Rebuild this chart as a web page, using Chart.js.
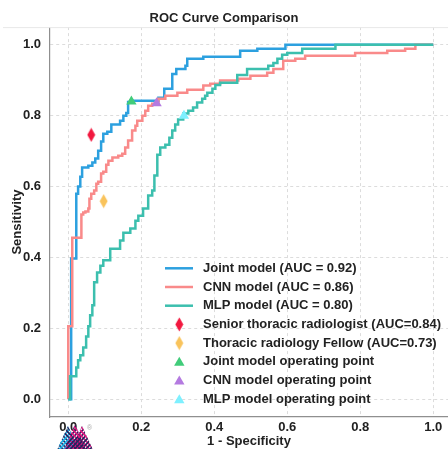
<!DOCTYPE html>
<html>
<head>
<meta charset="utf-8">
<script src="https://cdn.jsdelivr.net/npm/chart.js@4.4.1/dist/chart.umd.min.js"></script>
<style>
  html, body { margin: 0; padding: 0; background: #fff; overflow: hidden; }
  #wrap { width: 448px; height: 449px; position: relative; }
</style>
</head>
<body>
<div id="wrap"><canvas id="roc"></canvas></div>
<script>
// ROC corner points (step-before: horizontal run, then rise)
const jointFpr = [0, 0.008, 0.022, 0.027, 0.033, 0.038, 0.055, 0.066, 0.074, 0.082, 0.090, 0.096, 0.107, 0.118, 0.142, 0.151, 0.159, 0.164, 0.170, 0.247, 0.263, 0.285, 0.296, 0.321, 0.326, 0.370, 0.471, 0.518, 0.595, 1.0];
const jointTpr = [0, 0.397, 0.580, 0.600, 0.628, 0.654, 0.659, 0.668, 0.679, 0.701, 0.727, 0.749, 0.755, 0.775, 0.786, 0.800, 0.808, 0.839, 0.842, 0.851, 0.876, 0.918, 0.932, 0.941, 0.961, 0.966, 0.983, 0.989, 1.0, 1.0];

const cnnFpr = [0, 0, 0.011, 0.036, 0.041, 0.047, 0.055, 0.058, 0.063, 0.071, 0.077, 0.082, 0.090, 0.096, 0.104, 0.110, 0.121, 0.137, 0.148, 0.156, 0.164, 0.175, 0.184, 0.189, 0.203, 0.211, 0.219, 0.230, 0.247, 0.266, 0.299, 0.326, 0.370, 0.389, 0.416, 0.466, 0.499, 0.545, 0.562, 0.589, 0.622, 0.649, 0.786, 0.874, 0.923, 0.951, 0.951, 1.0];
const cnnTpr = [0, 0.206, 0.456, 0.521, 0.527, 0.530, 0.538, 0.566, 0.580, 0.589, 0.608, 0.614, 0.637, 0.642, 0.662, 0.673, 0.682, 0.687, 0.693, 0.710, 0.730, 0.758, 0.772, 0.786, 0.800, 0.814, 0.828, 0.834, 0.848, 0.856, 0.865, 0.873, 0.885, 0.890, 0.899, 0.904, 0.913, 0.921, 0.932, 0.955, 0.961, 0.969, 0.977, 0.983, 0.989, 0.994, 1.0, 1.0];

const mlpFpr = [0, 0.005, 0.022, 0.027, 0.033, 0.041, 0.049, 0.055, 0.060, 0.066, 0.071, 0.079, 0.088, 0.096, 0.115, 0.142, 0.151, 0.170, 0.184, 0.192, 0.205, 0.219, 0.230, 0.236, 0.244, 0.252, 0.266, 0.277, 0.285, 0.293, 0.301, 0.315, 0.329, 0.342, 0.353, 0.367, 0.375, 0.381, 0.395, 0.403, 0.416, 0.463, 0.490, 0.548, 0.562, 0.573, 0.586, 0.600, 0.641, 0.732, 1.0];
const mlpTpr = [0, 0.065, 0.090, 0.110, 0.124, 0.146, 0.177, 0.206, 0.237, 0.265, 0.330, 0.358, 0.377, 0.392, 0.425, 0.448, 0.470, 0.482, 0.504, 0.518, 0.538, 0.575, 0.589, 0.631, 0.690, 0.710, 0.718, 0.738, 0.758, 0.775, 0.789, 0.806, 0.814, 0.823, 0.837, 0.848, 0.856, 0.865, 0.876, 0.887, 0.893, 0.915, 0.932, 0.941, 0.949, 0.961, 0.972, 0.977, 0.989, 1.0, 1.0];

// single operating points [fpr, tpr]
const seniorPoint = [0.063, 0.746];
const fellowPoint = [0.097, 0.559];
const jointOpPoint = [0.173, 0.840];
const cnnOpPoint = [0.242, 0.835];
const mlpOpPoint = [0.317, 0.800];

const seriesLabels = [
    'Joint model (AUC = 0.92)',
    'CNN model (AUC = 0.86)',
    'MLP model (AUC = 0.80)',
    'Senior thoracic radiologist (AUC=0.84)',
    'Thoracic radiology Fellow (AUC=0.73)',
    'Joint model operating point',
    'CNN model operating point',
    'MLP model operating point'
];
const xTicks = [0, 0.2, 0.4, 0.6, 0.8, 1.0];
const yTicks = [0, 0.2, 0.4, 0.6, 0.8, 1.0];

const FONT = "'Liberation Sans', Arial, Helvetica, sans-serif";
const toXY = (xs, ys) => xs.map((x, i) => ({ x: x, y: ys[i] }));

// thin matplotlib-like diamond as a point image
function diamond(color){
    const c = document.createElement('canvas');
    c.width = 9; c.height = 15;
    const g = c.getContext('2d');
    g.fillStyle = color;
    g.beginPath();
    g.moveTo(4.5, 0.5); g.lineTo(8.5, 7.5); g.lineTo(4.5, 14.5); g.lineTo(0.5, 7.5);
    g.closePath();
    g.fill();
    return c;
}

const lineDs = (label, xs, ys, color, order) => ({
    label: label, data: toXY(xs, ys), borderColor: color, backgroundColor: color,
    borderWidth: 2.5, pointRadius: 0, stepped: 'before', fill: false, order: order
});
const pointDs = (label, pt, color, style) => ({
    label: label, data: [{ x: pt[0], y: pt[1] }], showLine: false,
    borderColor: color, backgroundColor: color, pointStyle: style,
    pointRadius: 6, pointBorderWidth: 0, order: 0
});

// striped peak for the corner logo
function peak(ctx, px, py, c1, c2){
    ctx.save();
    ctx.beginPath();
    ctx.moveTo(px, py); ctx.lineTo(px + 11, 450); ctx.lineTo(px - 11, 450); ctx.closePath();
    ctx.clip();
    ctx.lineWidth = 1.7;
    for (let k = -30; k < 30; k += 4.2) {
        ctx.strokeStyle = c1;
        ctx.beginPath(); ctx.moveTo(px + k - 15, 452); ctx.lineTo(px + k + 15, 420); ctx.stroke();
        ctx.strokeStyle = c2;
        ctx.beginPath(); ctx.moveTo(px + k - 15, 420); ctx.lineTo(px + k + 15, 452); ctx.stroke();
    }
    ctx.restore();
}

// legend drawn inside the axes, lower right, plus the small logo in the corner
const overlay = {
    id: 'overlay',
    afterDraw(chart){
        const ctx = chart.ctx;
        const ca = chart.chartArea;
        ctx.save();
        // faint top frame line
        ctx.strokeStyle = '#e8e8e8';
        ctx.lineWidth = 1;
        ctx.beginPath(); ctx.moveTo(3, ca.top + 0.5); ctx.lineTo(448, ca.top + 0.5); ctx.stroke();

        const x0 = 165, y0 = 268.3, step = 18.7, mx = 179.3;
        ctx.font = 'bold 13px ' + FONT;
        ctx.textBaseline = 'middle';
        chart.data.datasets.forEach((ds, i) => {
            const y = y0 + i * step;
            if (ds.showLine === false) {
                const st = ds.pointStyle;
                if (st instanceof HTMLCanvasElement) {
                    ctx.drawImage(st, mx - st.width / 2, y - st.height / 2);
                } else {
                    ctx.fillStyle = ds.backgroundColor;
                    ctx.beginPath();
                    ctx.moveTo(mx, y - 5); ctx.lineTo(mx + 5.2, y + 4); ctx.lineTo(mx - 5.2, y + 4);
                    ctx.closePath(); ctx.fill();
                }
            } else {
                ctx.strokeStyle = ds.borderColor;
                ctx.lineWidth = 2.5;
                ctx.beginPath(); ctx.moveTo(x0, y); ctx.lineTo(x0 + 28, y); ctx.stroke();
            }
            ctx.fillStyle = '#222';
            ctx.fillText(ds.label, 203, y);
        });

        // logo
        peak(ctx, 68, 426, '#1ab4ea', '#26215f');
        peak(ctx, 82, 426, '#26215f', '#e3147f');
        peak(ctx, 75, 424, '#26215f', '#e3147f');
        ctx.font = '7px ' + FONT;
        ctx.fillStyle = '#aaa';
        ctx.fillText('®', 87, 428);
        ctx.restore();
    }
};

const tickFont = { family: FONT, size: 13, weight: 'bold' };
const titleFont = { family: FONT, size: 13, weight: 'bold' };

new Chart(document.getElementById('roc'), {
    type: 'line',
    data: {
        datasets: [
            lineDs(seriesLabels[0], jointFpr, jointTpr, '#2CA0DF', 3),
            lineDs(seriesLabels[1], cnnFpr, cnnTpr, '#F98A8A', 2),
            lineDs(seriesLabels[2], mlpFpr, mlpTpr, '#3CBFAE', 1),
            pointDs(seriesLabels[3], seniorPoint, '#F2183F', diamond('#F2183F')),
            pointDs(seriesLabels[4], fellowPoint, '#F9C35B', diamond('#F9C35B')),
            pointDs(seriesLabels[5], jointOpPoint, '#41CC7A', 'triangle'),
            pointDs(seriesLabels[6], cnnOpPoint, '#B47AE0', 'triangle'),
            pointDs(seriesLabels[7], mlpOpPoint, '#7EF0FF', 'triangle')
        ]
    },
    options: {
        responsive: true,
        maintainAspectRatio: false,
        animation: false,
        layout: { padding: 0, autoPadding: false },
        plugins: {
            legend: { display: false },
            tooltip: { enabled: false },
            title: {
                display: true, text: 'ROC Curve Comparison', color: '#222',
                font: titleFont, padding: { top: 11, bottom: 0.5 }
            }
        },
        scales: {
            x: {
                type: 'linear', min: -0.05, max: 1.0404,
                afterBuildTicks: s => { s.ticks = xTicks.map(v => ({ value: v })); },
                afterFit: s => { s.height = 32; s.paddingLeft = 0; s.paddingRight = 0; },
                ticks: { font: tickFont, color: '#222', padding: 3, callback: v => v.toFixed(1) },
                grid: { color: '#dcdcdc', drawTicks: false },
                border: { color: '#8f8f8f', width: 1.2, dash: [3, 3] },
                title: { display: true, text: '1 - Specificity', color: '#222', font: titleFont, padding: { top: 0, bottom: 0 } }
            },
            y: {
                type: 'linear', min: -0.05, max: 1.05,
                afterBuildTicks: s => { s.ticks = yTicks.map(v => ({ value: v })); },
                afterFit: s => { s.width = 50; s.paddingTop = 0; s.paddingBottom = 0; },
                ticks: { font: tickFont, color: '#222', padding: 9, callback: v => v.toFixed(1) },
                grid: { color: '#dcdcdc', drawTicks: false },
                border: { color: '#8f8f8f', width: 1.2, dash: [3, 3] },
                title: { display: true, text: 'Sensitivity', color: '#222', font: titleFont, padding: { top: 10, bottom: 0 } }
            }
        }
    },
    plugins: [overlay]
});
</script>
</body>
</html>
